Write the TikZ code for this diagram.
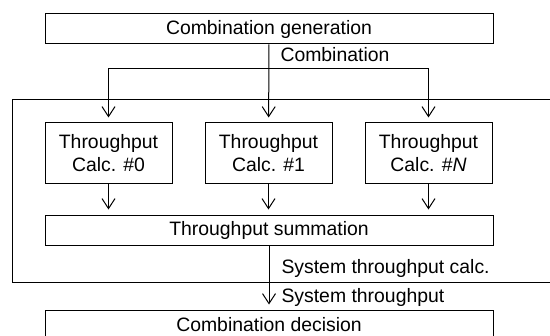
\documentclass[tikz,border=0pt]{standalone}
\usepackage{fontspec}
\setmainfont{Liberation Sans}
\usetikzlibrary{arrows.meta}

\begin{document}
\begin{tikzpicture}[x=0.5pt,y=-0.5pt,->,>={Straight Barb[length=5pt,width=6.5pt]},
                    shorten >=2.5pt,line width=0.5pt,node distance=80pt,
                    font=\fontsize{9.7}{11.6}\selectfont]
  \tikzstyle{wide}=[draw,inner sep=0pt,minimum width=224pt,minimum height=15pt]
  \tikzstyle{calc}=[draw,inner sep=0pt,minimum width=63.5pt,minimum height=30pt,align=center]
  \tikzstyle{lbl}=[inner sep=0pt,anchor=west]
  \clip (0,0) rectangle (550,336);

  \node[wide] (gen)  at (269,29)  {Combination generation};
  \node[calc] (c0)   at (108.5,153) {Throughput\\Calc. \#0};
  \node[calc] (c1)   [right of=c0] {Throughput\\Calc. \#1};
  \node[calc] (cN)   [right of=c1] {Throughput\\Calc. \#\textit{N}};
  \node[wide] (sum)  at (269,230) {Throughput summation};
  \node[wide] (dec)  at (269,325) {Combination decision};

  \coordinate (split) at (269,69);

  % outer box, open to the right
  \draw[-,shorten >=0pt] (552,100) -- (12,100) -- (12,282) -- (552,282);

  \node[lbl] at (280,55)  {Combination};
  \node[lbl] at (281,268) {System throughput calc.};
  \node[lbl] at (281,297) {System throughput};

  \draw (gen) -- (c1);
  \draw (split) -| (c0);
  \draw (split) -| (cN);
  \foreach \c in {c0,c1,cN}
    \draw (\c) -- (\c |- sum.north);
  \draw (sum) -- (dec);
\end{tikzpicture}
\end{document}
